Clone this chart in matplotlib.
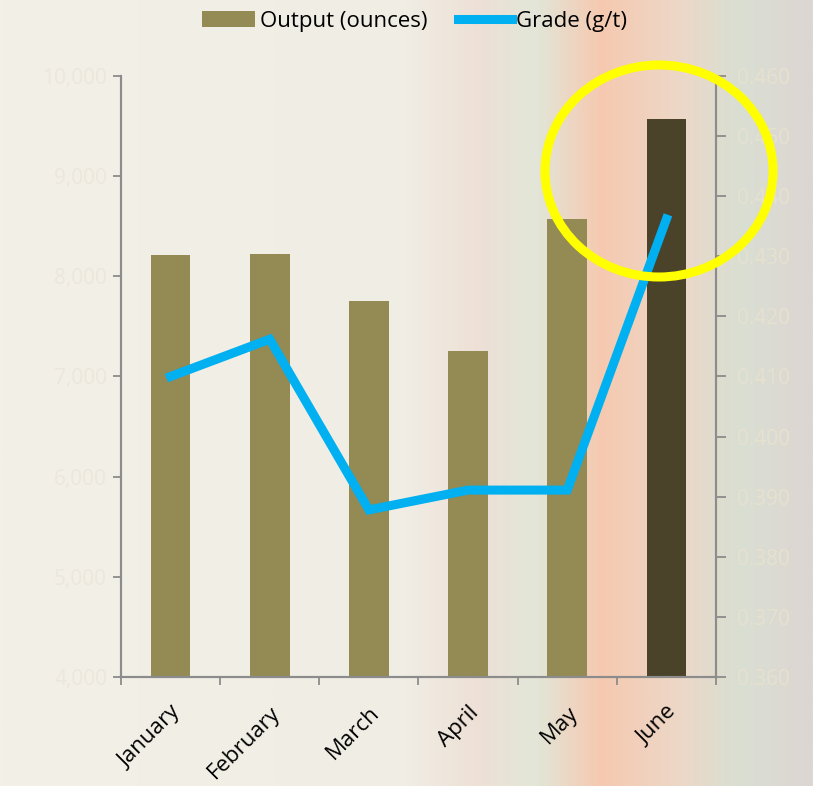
import numpy as np
import matplotlib.pyplot as plt
from matplotlib.patches import Ellipse, Patch
from matplotlib.lines import Line2D
from matplotlib.colors import LinearSegmentedColormap
from matplotlib.ticker import FuncFormatter

months = ["January", "February", "March", "April", "May", "June"]
output_oz = [8210, 8225, 7755, 7255, 8575, 9570]
grade_gt = [0.410, 0.4162, 0.3878, 0.3911, 0.3911, 0.4362]

left_ticks = [4000, 5000, 6000, 7000, 8000, 9000, 10000]
right_ticks = [0.360, 0.370, 0.380, 0.390, 0.400, 0.410, 0.420, 0.430, 0.440, 0.450, 0.460]

plt.rcParams['font.family'] = ['Open Sans', 'DejaVu Sans']

fig = plt.figure(figsize=(8.13, 7.86), dpi=100)

# soft photo-like backdrop
bg = fig.add_axes([0, 0, 1, 1], zorder=-10)
bg_cmap = LinearSegmentedColormap.from_list("bg", [
    (0.00, "#f3f0e8"), (0.50, "#f0ede4"), (0.59, "#eee0d6"),
    (0.66, "#e2e6d8"), (0.74, "#f6c9b0"), (0.84, "#ecd8c8"),
    (0.91, "#d9dfd2"), (1.00, "#ddd6d3")])
bg.imshow(np.linspace(0, 1, 400)[None, :], aspect="auto", cmap=bg_cmap,
          extent=[0, 1, 0, 1])
bg.axis("off")

grey = "#8c8c8c"
ax = fig.add_axes([0.1488, 0.1387, 0.7319, 0.7646])
ax.set_facecolor("none")
x = np.arange(len(months))
colors = ["#948a54"] * 5 + ["#4a4229"]
ax.bar(x, output_oz, width=0.4, color=colors, zorder=2)
ax.set_xlim(-0.5, len(months) - 0.5)
ax.set_ylim(4000, 10000)
ax.set_yticks(left_ticks)
ax.yaxis.set_major_formatter(FuncFormatter(lambda v, p: f"{int(v):,}"))
ax.tick_params(axis="y", colors=grey, labelcolor="#ebe7dc", labelsize=15,
               length=6, width=1.3, pad=4)
ax.set_xticks(x)
ax.set_xticklabels(months, rotation=45, ha="right", rotation_mode="anchor",
                   fontsize=16)
ax.tick_params(axis="x", length=0, pad=18)
ax.set_xticks(np.arange(-0.5, len(months)), minor=True)
ax.tick_params(axis="x", which="minor", length=6, width=1.3, color=grey)

ax2 = ax.twinx()
ax2.plot(x, grade_gt, color="#00b0f0", linewidth=6.5, solid_joinstyle="miter",
         zorder=3)
ax2.set_ylim(0.360, 0.460)
ax2.set_yticks(right_ticks)
ax2.yaxis.set_major_formatter(FuncFormatter(lambda v, p: f"{v:.3f}"))
ax2.tick_params(axis="y", colors=grey, labelcolor="#e6e1cf", labelsize=15,
                length=7, width=1.3, pad=8)

for a in (ax, ax2):
    a.spines["top"].set_visible(False)
    for s in ["left", "bottom", "right"]:
        a.spines[s].set_color(grey)
        a.spines[s].set_linewidth(1.5)

handles = [Patch(facecolor="#948a54", edgecolor="none"),
           Line2D([0], [0], color="#00b0f0", linewidth=6.5)]
fig.legend(handles, ["Output (ounces)", "Grade (g/t)"], loc="center",
           bbox_to_anchor=(0.51, 0.973), ncol=2, frameon=False, fontsize=16,
           handlelength=2.4, handleheight=0.7, handletextpad=0.2,
           columnspacing=1.4)

# highlight circle around June
fig.patches.append(Ellipse((659 / 813, 1 - 171 / 786), 228 / 813, 212 / 786,
                           transform=fig.transFigure, fill=False,
                           edgecolor="#ffff00", linewidth=6.5, zorder=10))

fig.savefig("out.png", dpi=100)
